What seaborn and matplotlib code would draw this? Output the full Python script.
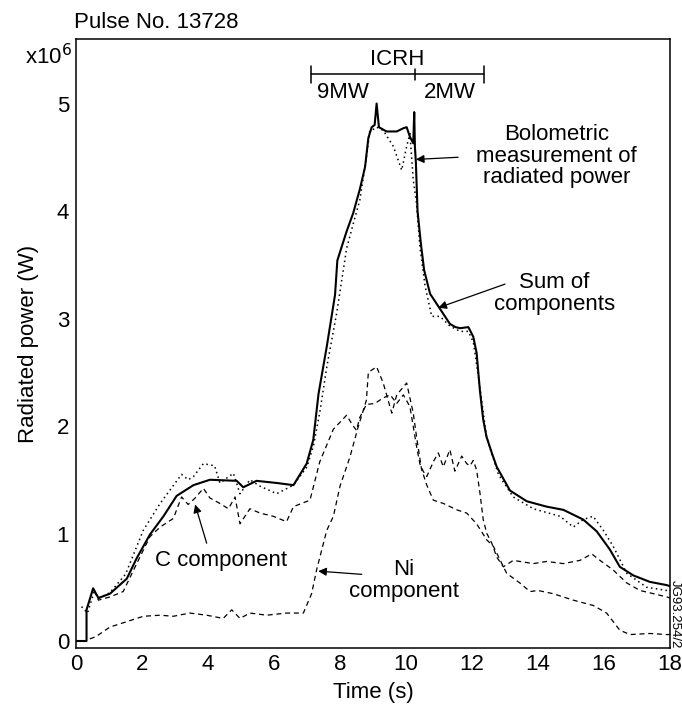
import numpy as np
import pandas as pd
import matplotlib
matplotlib.use("Agg")
import matplotlib.pyplot as plt
import seaborn as sns

sns.set_theme(style="white")
plt.rcParams['font.family'] = ['Liberation Sans', 'DejaVu Sans']
plt.rcParams['text.color'] = 'black'
plt.rcParams['axes.labelcolor'] = 'black'
plt.rcParams['xtick.color'] = 'black'
plt.rcParams['ytick.color'] = 'black'

# ---- data, values in units of 1e6 W ----
bolo_t = [0, 0.32, 0.32, 0.52, 0.68, 1.03, 1.54, 1.84, 2.24, 2.65, 3.05, 3.56, 4.06, 4.87, 5.07, 5.47,
          6.08, 6.59, 6.99, 7.19, 7.35, 7.6, 7.85, 7.92, 8.2, 8.4, 8.6, 8.76, 8.86, 8.96, 9.05, 9.11,
          9.18, 9.41, 9.72, 9.92, 10.02, 10.12, 10.22, 10.25, 10.27, 10.3, 10.35, 10.45, 10.55, 10.73,
          11.03, 11.33, 11.5, 11.64, 11.89, 12.04, 12.14, 12.24, 12.34, 12.44, 12.6, 12.75, 13.15, 13.66,
          14.26, 14.77, 15.37, 15.78, 16.18, 16.48, 16.89, 17.39, 17.9, 18.0]
bolo_v = [0, 0, 0.29, 0.49, 0.40, 0.44, 0.58, 0.77, 0.99, 1.16, 1.35, 1.45, 1.50, 1.49, 1.43, 1.49,
          1.47, 1.45, 1.65, 1.87, 2.30, 2.74, 3.22, 3.54, 3.81, 3.98, 4.20, 4.41, 4.68, 4.78, 4.80, 5.00,
          4.78, 4.74, 4.74, 4.77, 4.78, 4.69, 4.63, 4.92, 4.60, 4.45, 4.00, 3.70, 3.45, 3.23,
          3.09, 2.95, 2.92, 2.91, 2.92, 2.83, 2.68, 2.33, 2.06, 1.90, 1.75, 1.62, 1.40, 1.30,
          1.25, 1.22, 1.13, 1.02, 0.85, 0.69, 0.61, 0.55, 0.52, 0.51]

sum_t = [0.17, 0.35, 0.55, 0.7, 1.03, 1.5, 2.04, 2.55, 3.2, 3.4, 3.56, 3.86, 4.2, 4.36, 4.77, 4.97,
         5.27, 5.58, 6.08, 6.59, 7.0, 7.2, 7.4, 7.6, 7.9, 8.2, 8.4, 8.6, 8.8, 8.9, 9.11, 9.31, 9.62,
         9.87, 10.02, 10.12, 10.22, 10.32, 10.42, 10.58, 10.78, 11.03, 11.33, 11.64, 11.89, 12.04,
         12.2, 12.44, 12.8, 13.25, 13.86, 14.67, 15.07, 15.37, 15.67, 15.98, 16.28, 16.69, 17.29,
         17.9, 18.0]
sum_v = [0.32, 0.26, 0.46, 0.40, 0.45, 0.62, 1.03, 1.28, 1.55, 1.50, 1.53, 1.65, 1.63, 1.47, 1.56, 1.37,
         1.50, 1.44, 1.37, 1.45, 1.62, 1.82, 2.15, 2.55, 3.05, 3.65, 3.88, 4.10, 4.50, 4.74, 4.78, 4.75, 4.60,
         4.38, 4.60, 4.72, 4.29, 4.07, 3.67, 3.30, 3.02, 3.02, 2.93, 2.88, 2.88, 2.78,
         2.45, 1.90, 1.55, 1.34, 1.23, 1.16, 1.06, 1.13, 1.16, 1.03, 0.88, 0.63, 0.50,
         0.47, 0.46]

c_t = [0.55, 0.68, 1.03, 1.43, 1.84, 2.24, 2.55, 2.95, 3.2, 3.4, 3.61, 3.86, 4.06, 4.36, 4.62, 4.82,
       4.97, 5.27, 5.58, 5.98, 6.38, 6.59, 7.09, 7.39, 7.8, 8.2, 8.4, 8.5, 8.6, 8.8, 9.06, 9.3, 9.52,
       9.72, 9.92, 10.12, 10.32, 10.42, 10.52, 10.63, 10.73, 10.85, 10.98, 11.13, 11.33, 11.48, 11.69,
       11.84, 11.94, 12.04, 12.14, 12.24, 12.34, 12.45, 12.6, 12.75, 12.95, 13.25, 13.86, 14.26, 14.77,
       15.27, 15.63, 15.88, 16.28, 16.69, 17.09, 17.5, 17.9, 18.0]
c_v = [0.47, 0.38, 0.41, 0.46, 0.72, 0.97, 1.06, 1.14, 1.34, 1.27, 1.33, 1.42, 1.33, 1.28, 1.23, 1.34,
       1.09, 1.23, 1.19, 1.16, 1.11, 1.25, 1.31, 1.67, 1.97, 2.10, 2.00, 1.96, 2.08, 2.20, 2.21, 2.26, 2.29,
       2.21, 2.29, 2.18, 1.81, 1.65, 1.58, 1.53, 1.60, 1.68, 1.75, 1.62, 1.78, 1.58, 1.72,
       1.65, 1.63, 1.68, 1.59, 1.38, 1.13, 1.00, 0.91, 0.78, 0.69, 0.75, 0.72, 0.74, 0.72,
       0.75, 0.81, 0.75, 0.66, 0.54, 0.47, 0.44, 0.41, 0.40]

ni_t = [0.42, 0.6, 1.03, 1.54, 2.04, 2.55, 2.95, 3.45, 3.96, 4.46, 4.72, 4.97, 5.27, 5.78, 6.38, 6.89,
        7.14, 7.29, 7.6, 7.8, 8.0, 8.3, 8.55, 8.8, 8.86, 9.11, 9.31, 9.57, 9.72, 10.02, 10.22, 10.32,
        10.47, 10.63, 10.83, 11.13, 11.54, 11.84, 12.14, 12.45, 12.65, 13.05, 13.45, 13.76, 14.0, 14.46,
        15.07, 15.68, 16.08, 16.48, 16.79, 17.39, 17.9, 18.0]
ni_v = [0.02, 0.04, 0.13, 0.18, 0.23, 0.24, 0.23, 0.26, 0.24, 0.21, 0.29, 0.21, 0.26, 0.24, 0.26, 0.26,
        0.44, 0.66, 1.03, 1.16, 1.44, 1.71, 1.99, 2.24, 2.50, 2.55, 2.40, 2.12, 2.29, 2.40, 2.12, 1.90,
        1.60, 1.45, 1.31, 1.28, 1.22, 1.19, 1.09, 0.94, 0.88, 0.63, 0.54, 0.46, 0.47, 0.44,
        0.38, 0.33, 0.26, 0.10, 0.06, 0.07, 0.06, 0.06]

x_ticks = [0, 2, 4, 6, 8, 10, 12, 14, 16, 18]
y_ticks = [0, 1, 2, 3, 4, 5]

FS = 16

# ---- figure ----
fig = plt.figure(figsize=(6.82, 7.12), dpi=100)
ax = fig.add_axes([0.1114, 0.0899, 0.871, 0.8553])

sns.lineplot(x=ni_t, y=ni_v, ax=ax, color='black', lw=0.9, dashes=False,
             estimator=None, sort=False, linestyle=(0, (4, 3)))
sns.lineplot(x=c_t, y=c_v, ax=ax, color='black', lw=0.9, dashes=False,
             estimator=None, sort=False, linestyle=(0, (4, 3)))
sns.lineplot(x=sum_t, y=sum_v, ax=ax, color='black', lw=1.1, dashes=False,
             estimator=None, sort=False, linestyle=(0, (1, 2.2)))
sns.lineplot(x=bolo_t, y=bolo_v, ax=ax, color='black', lw=1.5, dashes=False,
             estimator=None, sort=False)

ax.set_xlim(0, 18)
ax.set_ylim(-0.065, 5.6)
ax.set_xticks(x_ticks)
ax.set_xticklabels([str(v) for v in x_ticks])
ax.set_yticks(y_ticks)
ax.set_yticklabels([str(v) for v in y_ticks])
ax.tick_params(axis='x', direction='in', length=9, width=1.2, labelsize=FS, pad=4, colors='black')
ax.tick_params(axis='y', direction='in', length=7, width=1.2, labelsize=FS, pad=5, colors='black')
for s in ax.spines.values():
    s.set_visible(True)
    s.set_color('black')
    s.set_linewidth(1.1)
ax.set_facecolor('white')
ax.grid(False)

ax.set_xlabel('Time (s)', fontsize=FS)
ax.set_ylabel('Radiated power (W)', fontsize=FS)
ax.xaxis.set_label_coords(0.5, -0.056)
ax.yaxis.set_label_coords(-0.062, 0.5)

fig.text(0.108, 0.969, 'Pulse No. 13728', fontsize=FS, ha='left', va='center')
fig.text(0.036, 0.921, r'x10$^6$', fontsize=FS, ha='left', va='center')

# ICRH bar
bar_y = 5.27
ax.plot([7.11, 12.36], [bar_y, bar_y], color='black', lw=1.1)
for xt, h in [(7.11, 0.075), (10.27, 0.055), (12.36, 0.075)]:
    ax.plot([xt, xt], [bar_y - h, bar_y + h], color='black', lw=1.1)
ax.text(9.72, 5.41, 'ICRH', fontsize=FS, ha='center', va='center')
ax.text(8.1, 5.10, '9MW', fontsize=FS, ha='center', va='center')
ax.text(11.33, 5.10, '2MW', fontsize=FS, ha='center', va='center')

ap = dict(arrowstyle='-|>', color='black', lw=0.9, mutation_scale=12, shrinkA=0, shrinkB=0)
ax.annotate('', xy=(10.3, 4.48), xytext=(11.58, 4.50), arrowprops=ap)
ax.text(14.56, 4.51, 'Bolometric\nmeasurement of\nradiated power', fontsize=FS,
        ha='center', va='center', linespacing=1.05)
ax.annotate('', xy=(10.98, 3.10), xytext=(13.0, 3.32), arrowprops=ap)
ax.text(14.5, 3.23, 'Sum of\ncomponents', fontsize=FS, ha='center', va='center', linespacing=1.05)
ax.annotate('', xy=(3.61, 1.27), xytext=(3.96, 0.91), arrowprops=ap)
ax.text(4.41, 0.75, 'C component', fontsize=FS, ha='center', va='center')
ax.annotate('', xy=(7.34, 0.65), xytext=(8.66, 0.62), arrowprops=ap)
ax.text(9.94, 0.56, 'Ni\ncomponent', fontsize=FS, ha='center', va='center', linespacing=1.05)

fig.text(0.99, 0.138, 'JG93.254/2', fontsize=9.5, rotation=270, ha='center', va='center')

fig.savefig('out.png', dpi=100, facecolor='white')
